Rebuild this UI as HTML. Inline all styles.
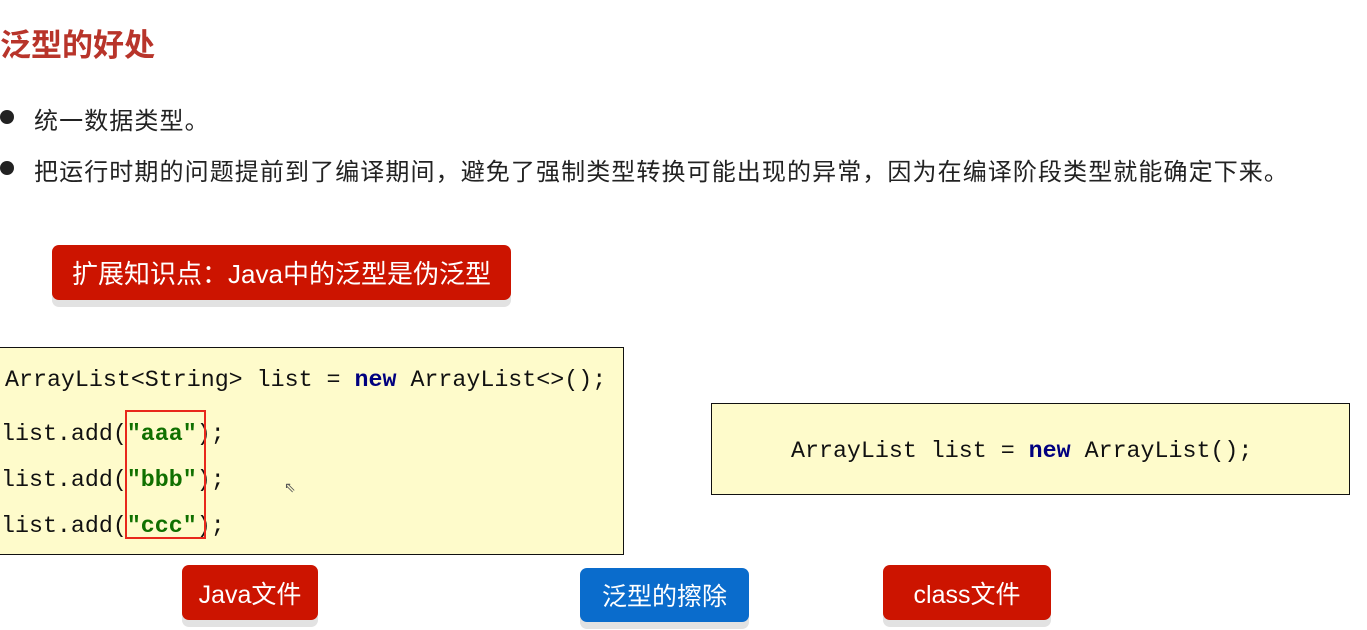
<!DOCTYPE html>
<html><head><meta charset="utf-8"><style>
body{margin:0;width:1367px;height:630px;background:#fff;position:relative;overflow:hidden;font-family:"Liberation Sans","Noto Sans CJK SC",sans-serif;}
.a{position:absolute;white-space:nowrap;}
.title{left:0;top:20px;font-size:31px;font-weight:bold;color:#b8342a;}
.bul{font-size:24px;letter-spacing:1.1px;color:#222;}
.dot{position:absolute;width:14px;height:14px;border-radius:50%;background:#222;}
.btn{position:absolute;border-radius:7px;color:#fff;font-size:25px;display:flex;align-items:center;justify-content:center;box-shadow:0 7px 0 #e2e2e2;}
.red{background:#cc1400;}
.blue{background:#0a6ccc;}
.code{position:absolute;background:#fefbcb;border:1.5px solid #111;font-family:"Liberation Mono",monospace;font-size:23.3px;color:#111;}
.kw{color:#00007f;font-weight:bold;}
.str{color:#107000;font-weight:bold;}
</style></head><body>
<div class="a title">泛型的好处</div>
<div class="dot" style="left:0px;top:110px"></div>
<div class="a bul" style="left:34px;top:101px">统一数据类型。</div>
<div class="dot" style="left:0px;top:161px"></div>
<div class="a bul" style="left:34px;top:152px">把运行时期的问题提前到了编译期间，避免了强制类型转换可能出现的异常，因为在编译阶段类型就能确定下来。</div>
<div class="btn red" style="left:52px;top:245px;width:459px;height:55px;font-size:26px">扩展知识点：Java中的泛型是伪泛型</div>
<div class="code" style="left:-2px;top:347px;width:624px;height:206px">
<div class="a" style="left:6px;top:19px">ArrayList&lt;String&gt; list = <span class="kw">new</span> ArrayList&lt;&gt;();</div>
<div class="a" style="left:2px;top:73px">list.add(<span class="str">"aaa"</span>);</div>
<div class="a" style="left:2px;top:119px">list.add(<span class="str">"bbb"</span>);</div>
<div class="a" style="left:2px;top:165px">list.add(<span class="str">"ccc"</span>);</div>
</div>
<div class="a" style="left:125px;top:410px;width:77px;height:125px;border:2px solid #e8281c"></div>
<div class="a" style="left:284px;top:479px;font-size:14px;color:#555">⇖</div>
<div class="code" style="left:711px;top:403px;width:637px;height:90px">
<div class="a" style="left:79px;top:34px">ArrayList list = <span class="kw">new</span> ArrayList();</div>
</div>
<div class="btn red" style="left:182px;top:565px;width:136px;height:55px">Java文件</div>
<div class="btn blue" style="left:580px;top:568px;width:169px;height:54px">泛型的擦除</div>
<div class="btn red" style="left:883px;top:565px;width:168px;height:55px">class文件</div>
</body></html>
